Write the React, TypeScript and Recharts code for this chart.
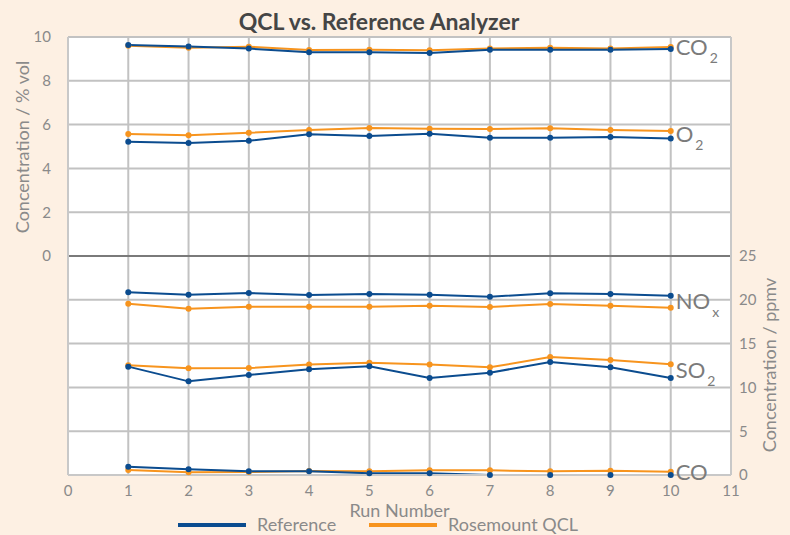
import React from "react";
import {
  LineChart,
  Line,
  XAxis,
  YAxis,
  CartesianGrid,
  ReferenceLine,
  ReferenceDot,
} from "recharts";

// run numbers on the x axis
const runs = [1, 2, 3, 4, 5, 6, 7, 8, 9, 10];

// % vol (left axis)
const co2Ref = [9.63, 9.57, 9.47, 9.3, 9.3, 9.27, 9.42, 9.42, 9.42, 9.45];
const co2Qcl = [9.6, 9.51, 9.56, 9.41, 9.42, 9.39, 9.48, 9.51, 9.47, 9.54];
const o2Ref = [5.22, 5.16, 5.26, 5.56, 5.48, 5.58, 5.4, 5.4, 5.43, 5.37];
const o2Qcl = [5.57, 5.51, 5.63, 5.75, 5.84, 5.81, 5.8, 5.83, 5.75, 5.71];

// ppmv (right axis)
const noxRef = [20.85, 20.58, 20.78, 20.55, 20.66, 20.58, 20.36, 20.74, 20.66, 20.47];
const noxQcl = [19.56, 18.99, 19.21, 19.21, 19.21, 19.33, 19.18, 19.52, 19.33, 19.1];
const so2Ref = [12.37, 10.69, 11.42, 12.06, 12.41, 11.07, 11.68, 12.9, 12.29, 11.07];
const so2Qcl = [12.52, 12.18, 12.21, 12.6, 12.82, 12.6, 12.29, 13.47, 13.13, 12.63];
const coRef = [0.95, 0.65, 0.42, 0.42, 0.19, 0.19, 0, 0, 0, 0];
const coQcl = [0.57, 0.3, 0.34, 0.46, 0.42, 0.53, 0.53, 0.42, 0.49, 0.38];

const xTicks = [0, 1, 2, 3, 4, 5, 6, 7, 8, 9, 10, 11];
const pctTicks = [-10, -8, -6, -4, -2, 0, 2, 4, 6, 8, 10];
const ppmTicks = [0, 5, 10, 15, 20, 25];

const data = runs.map((run, i) => ({
  run,
  co2Ref: co2Ref[i],
  co2Qcl: co2Qcl[i],
  o2Ref: o2Ref[i],
  o2Qcl: o2Qcl[i],
  noxRef: noxRef[i],
  noxQcl: noxQcl[i],
  so2Ref: so2Ref[i],
  so2Qcl: so2Qcl[i],
  coRef: coRef[i],
  coQcl: coQcl[i],
}));

const REF = "#0b4c8f";
const QCL = "#f7941e";
const FONT = "Lato, 'Open Sans', sans-serif";
const last = (a: number[]) => a[a.length - 1];

// gas labels at the right end, placed between the two last points
const gases = [
  { main: "CO", sub: "2", axis: "pct", y: (last(co2Ref) + last(co2Qcl)) / 2 },
  { main: "O", sub: "2", axis: "pct", y: (last(o2Ref) + last(o2Qcl)) / 2 },
  { main: "NO", sub: "x", axis: "ppm", y: (last(noxRef) + last(noxQcl)) / 2 },
  { main: "SO", sub: "2", axis: "ppm", y: (last(so2Ref) + last(so2Qcl)) / 2 },
  { main: "CO", sub: "", axis: "ppm", y: (last(coRef) + last(coQcl)) / 2 },
];

const series = [
  { key: "co2Qcl", axis: "pct", color: QCL },
  { key: "o2Qcl", axis: "pct", color: QCL },
  { key: "noxQcl", axis: "ppm", color: QCL },
  { key: "so2Qcl", axis: "ppm", color: QCL },
  { key: "coQcl", axis: "ppm", color: QCL },
  { key: "co2Ref", axis: "pct", color: REF },
  { key: "o2Ref", axis: "pct", color: REF },
  { key: "noxRef", axis: "ppm", color: REF },
  { key: "so2Ref", axis: "ppm", color: REF },
  { key: "coRef", axis: "ppm", color: REF },
];

const GasLabel = (props: any) => {
  const { viewBox, main, sub } = props;
  const x = viewBox.x + viewBox.width / 2 + 5;
  const y = viewBox.y + viewBox.height / 2 + 7;
  return (
    <text x={x} y={y} fill="#7b7b7b" fontSize={22} fontFamily={FONT}>
      {main}
      {sub && (
        <tspan fontSize={14} dx={2} dy={8}>
          {sub}
        </tspan>
      )}
    </text>
  );
};

export default function App() {
  return (
    <div
      style={{
        position: "absolute",
        left: 0,
        top: 0,
        width: 790,
        height: 535,
        background: "#fdf0e3",
        fontFamily: FONT,
        overflow: "hidden",
      }}
    >
      <div
        style={{
          position: "absolute",
          top: 7,
          left: -16,
          width: 790,
          textAlign: "center",
          fontSize: 23,
          fontWeight: 700,
          color: "#454545",
          lineHeight: "28px",
        }}
      >
        QCL vs. Reference Analyzer
      </div>
      <LineChart
        width={790}
        height={535}
        data={data}
        margin={{ top: 37, right: 25, bottom: 18, left: 28 }}
      >
        <CartesianGrid
          yAxisId="pct"
          stroke="#c2c2c2"
          strokeWidth={2}
          fill="#ffffff"
        />
        <XAxis
          dataKey="run"
          type="number"
          domain={[0, 11]}
          ticks={xTicks}
          height={42}
          tickLine={false}
          tickMargin={4}
          axisLine={{ stroke: "#c8c8c8", strokeWidth: 2 }}
          tick={{ fill: "#8a8a8a", fontSize: 15, fontFamily: FONT }}
          label={{
            value: "Run Number",
            position: "insideBottom",
            offset: 0,
            fill: "#8a8a8a",
            fontSize: 18,
            fontFamily: FONT,
          }}
        />
        <YAxis
          yAxisId="pct"
          domain={[-10, 10]}
          ticks={pctTicks}
          width={40}
          tickLine={false}
          tickMargin={11}
          axisLine={{ stroke: "#c8c8c8", strokeWidth: 2 }}
          tickFormatter={(v: number) => (v >= 0 ? String(v) : "")}
          tick={{ fill: "#8a8a8a", fontSize: 15, fontFamily: FONT }}
          label={{
            content: () => (
              <text
                transform="translate(29,147) rotate(-90)"
                textAnchor="middle"
                fill="#8a8a8a"
                fontSize={18}
                fontFamily={FONT}
              >
                Concentration / % vol
              </text>
            ),
          }}
        />
        <YAxis
          yAxisId="ppm"
          orientation="right"
          domain={[0, 50]}
          ticks={ppmTicks}
          width={34}
          tickLine={false}
          axisLine={{ stroke: "#c8c8c8", strokeWidth: 2 }}
          tick={{ fill: "#8a8a8a", fontSize: 15, fontFamily: FONT }}
          label={{
            content: () => (
              <text
                transform="translate(776,365) rotate(-90)"
                textAnchor="middle"
                fill="#8a8a8a"
                fontSize={18}
                fontFamily={FONT}
              >
                Concentration / ppmv
              </text>
            ),
          }}
        />
        <ReferenceLine yAxisId="pct" y={0} stroke="#7a7a7a" strokeWidth={2} />
        {series.map((s) => (
          <Line
            key={s.key}
            yAxisId={s.axis}
            dataKey={s.key}
            stroke={s.color}
            strokeWidth={2}
            dot={{ r: 3, fill: s.color, stroke: "none" }}
            activeDot={false}
            isAnimationActive={false}
          />
        ))}
        {gases.map((g, i) => (
          <ReferenceDot
            key={i}
            yAxisId={g.axis}
            x={10}
            y={g.y}
            r={0}
            fill="none"
            stroke="none"
            label={<GasLabel main={g.main} sub={g.sub} />}
          />
        ))}
      </LineChart>
      <div
        style={{
          position: "absolute",
          top: 515,
          left: 178,
          display: "flex",
          alignItems: "center",
          fontSize: 18,
          color: "#8a8a8a",
          lineHeight: "19px",
        }}
      >
        <span style={{ width: 68, height: 4, background: REF, display: "inline-block" }} />
        <span style={{ marginLeft: 11, width: 112 }}>Reference</span>
        <span style={{ width: 68, height: 4, background: QCL, display: "inline-block" }} />
        <span style={{ marginLeft: 11 }}>Rosemount QCL</span>
      </div>
    </div>
  );
}
